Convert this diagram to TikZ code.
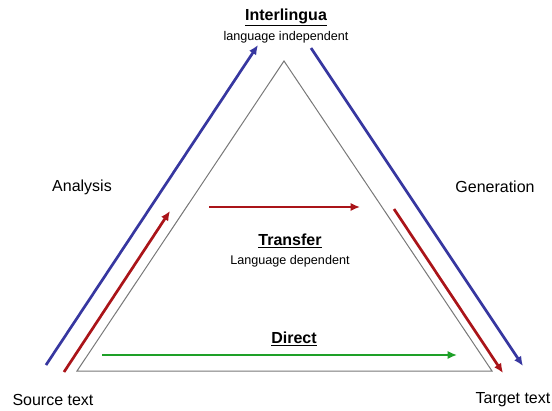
\documentclass[tikz,border=0pt]{standalone}
\usepackage{fontspec}
\setmainfont{Liberation Sans}
\usetikzlibrary{arrows.meta}
\definecolor{cblue}{RGB}{55,55,160}
\definecolor{cred}{RGB}{170,20,25}
\definecolor{cgreen}{RGB}{30,160,40}
\definecolor{cgray}{RGB}{120,120,120}
\tikzset{
  big/.style={font=\fontsize{16}{18}\selectfont, inner sep=0pt},
  small/.style={font=\fontsize{12.6}{14}\selectfont, inner sep=0pt},
  arr/.style={line width=2.7pt, -{Latex[length=9.5pt,width=8.5pt]}},
}
\begin{document}
\begin{tikzpicture}[x=1pt,y=-1pt]
\useasboundingbox (0,0) rectangle (552,410);
% triangle
\coordinate (apex) at (284,61);
\coordinate (bl) at (77,371);
\coordinate (br) at (492,371);
\draw[cgray, line width=1pt, line join=miter] (apex) -- (bl) -- (br) -- cycle;
% arrow end points
\coordinate (b1s) at (46,365);
\coordinate (b1e) at (258,45);
\coordinate (b2s) at (311,48);
\coordinate (b2e) at (523,366);
\coordinate (r1s) at (64,372);
\coordinate (r1e) at (170,211);
\coordinate (r2s) at (394,209);
\coordinate (r2e) at (503,373);
\coordinate (rhs) at (209,207);
\coordinate (rhe) at (360,207);
\coordinate (gs) at (102,355);
\coordinate (ge) at (457,355);
\draw[arr, cblue] (b1s) -- (b1e);
\draw[arr, cblue] (b2s) -- (b2e);
\draw[arr, cred] (r1s) -- (r1e);
\draw[arr, cred] (r2s) -- (r2e);
\draw[arr, cred] (rhs) -- (rhe);
\draw[arr, cgreen] (gs) -- (ge);
% labels
\node[big, font=\fontsize{16}{18}\selectfont\bfseries] (inter) at (286,17) {\underline{Interlingua}};
\node[small] (indep) at (286,37) {language independent};
\node[big] (ana) at (82,187) {Analysis};
\node[big] (gen) at (495,187) {Generation};
\node[big, font=\fontsize{16}{18}\selectfont\bfseries] (trans) at (290,241) {\underline{Transfer}};
\node[small] (dep) at (290,261) {Language dependent};
\node[big, font=\fontsize{16}{18}\selectfont\bfseries] (direct) at (294,339) {\underline{Direct}};
\node[big] (src) at (53,400) {Source text};
\node[big] (tgt) at (513,400) {Target text};
\end{tikzpicture}
\end{document}
